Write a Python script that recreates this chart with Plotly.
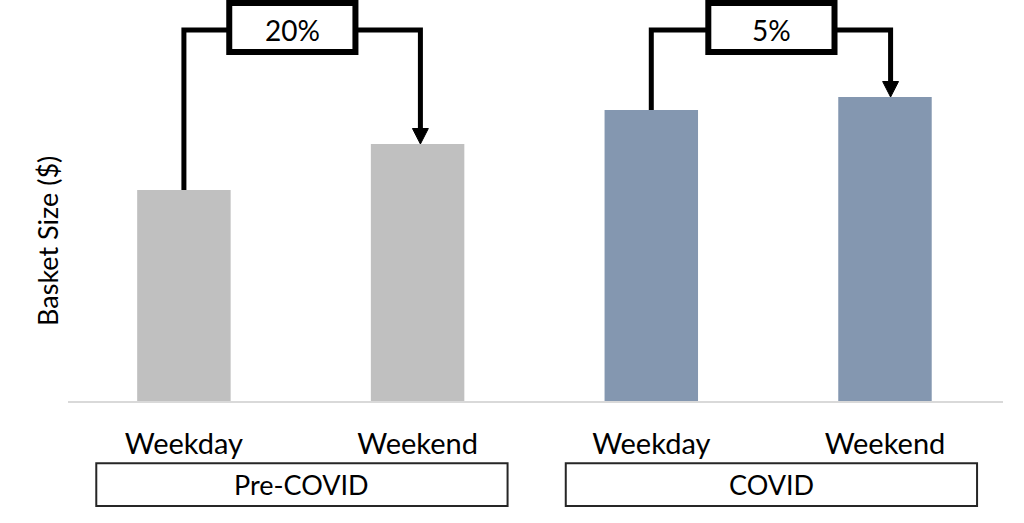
import plotly.graph_objects as go

# bar values (arbitrary $ units)
days = ["Weekday", "Weekend", "Weekday", "Weekend"]
basket = [42.2, 51.4, 58.2, 60.8]
bar_colors = ["#c0c0c0", "#c0c0c0", "#8497b0", "#8497b0"]
groups = ["Pre-COVID", "COVID"]
group_centers = [0.505, 2.514]
changes = ["20%", "5%"]
change_box_x = [0.464, 2.514]

xpos = list(range(len(days)))
font = "Lato, Open Sans, sans-serif"
ymax = 80.2
bracket_y = 74.2

fig = go.Figure()
fig.add_trace(go.Bar(x=xpos, y=basket, marker_color=bar_colors, width=0.4,
                     marker_line_width=0, showlegend=False, hoverinfo="skip"))

shapes = []
annotations = []
for g in range(2):
    a, b = 2 * g, 2 * g + 1
    xr = xpos[b] + 0.012 * (g + 1)  # arrow sits a touch right of the bar centre
    # bracket: up from first bar, across, down to second bar
    shapes.append(dict(type="path", xref="x", yref="y",
                       path=f"M {xpos[a]},{basket[a]} L {xpos[a]},{bracket_y} "
                            f"L {xr},{bracket_y} L {xr},{basket[b] + 2.6}",
                       line=dict(color="black", width=5)))
    # arrow head
    shapes.append(dict(type="path", xref="x", yref="y",
                       path=f"M {xr - 0.034},{basket[b] + 3.1} L {xr + 0.034},{basket[b] + 3.1} "
                            f"L {xr},{basket[b]} Z",
                       fillcolor="black", line=dict(color="black", width=1)))
    # change box
    shapes.append(dict(type="rect", xref="x", yref="y",
                       x0=change_box_x[g] - 0.27, x1=change_box_x[g] + 0.27,
                       y0=69.8, y1=79.6, fillcolor="white",
                       line=dict(color="black", width=6)))
    annotations.append(dict(x=change_box_x[g], y=bracket_y, xref="x", yref="y",
                            text=changes[g], showarrow=False, yanchor="middle",
                            font=dict(size=28, color="black", family=font)))
    # group box below axis
    shapes.append(dict(type="rect", xref="x", yref="paper",
                       x0=group_centers[g] - 0.88, x1=group_centers[g] + 0.88,
                       y0=-0.262, y1=-0.155, fillcolor="white",
                       line=dict(color="#262626", width=2)))
    annotations.append(dict(x=group_centers[g], y=-0.208, xref="x", yref="paper",
                            text=groups[g], showarrow=False, yanchor="middle",
                            font=dict(size=27, color="black", family=font)))

# y axis title, centred a bit below the middle of the plot like the original
annotations.append(dict(x=-0.0225, y=0.399, xref="paper", yref="paper",
                        text="Basket Size ($)", textangle=-90, showarrow=False,
                        xanchor="center", yanchor="middle",
                        font=dict(size=27, color="black", family=font)))

fig.update_layout(
    width=1024, height=523,
    margin=dict(l=68, r=21, t=0, b=122),
    plot_bgcolor="white", paper_bgcolor="white",
    shapes=shapes, annotations=annotations,
    xaxis=dict(range=[-0.496, 3.505], tickvals=xpos, ticktext=days,
               showgrid=False, zeroline=False, showline=True,
               linecolor="#d9d9d9", linewidth=2, ticks="",
               ticklabelstandoff=16,
               tickfont=dict(size=29, color="black", family=font)),
    yaxis=dict(range=[0, ymax], showticklabels=False, showgrid=False,
               zeroline=False, showline=False, ticks=""),
)

fig.write_html("out.html", config={"displayModeBar": False},
               post_script="document.body.style.margin='0';")
